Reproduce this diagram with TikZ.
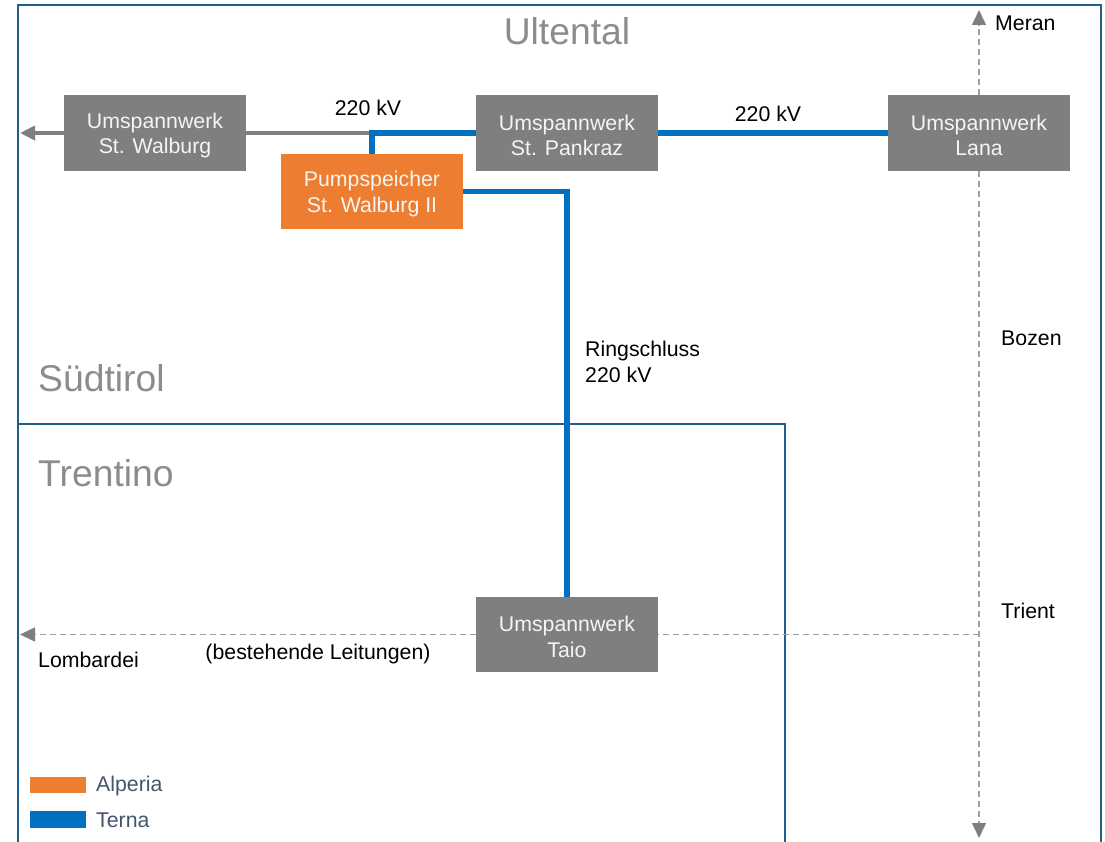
\documentclass[tikz,border=0pt]{standalone}
\usepackage{fontspec}
\setmainfont{Liberation Sans}
\usetikzlibrary{arrows.meta}

\definecolor{boxgray}{RGB}{127,127,127}
\definecolor{boxtext}{RGB}{245,245,245}
\definecolor{alperia}{RGB}{237,125,49}
\definecolor{terna}{RGB}{0,112,192}
\definecolor{frameblue}{RGB}{31,95,140}
\definecolor{titlegray}{RGB}{140,140,140}
\definecolor{dashgray}{RGB}{160,160,160}
\definecolor{legendtext}{RGB}{68,84,106}

\tikzset{
  station/.style={fill=boxgray, minimum width=182pt, minimum height=76pt, inner sep=0pt},
  plant/.style={station, fill=alperia},
  boxlabel/.style={text=boxtext, align=center, inner sep=0pt, yshift=-2.5pt,
    font=\fontsize{21.3}{25.5}\selectfont},
  region/.style={text=titlegray, font=\fontsize{37.3}{40}\selectfont, inner sep=0pt},
  lbl/.style={text=black, font=\fontsize{21.3}{25.5}\selectfont, inner sep=0pt},
  legendlbl/.style={text=legendtext, font=\fontsize{21.3}{25.5}\selectfont, inner sep=0pt, anchor=west},
  frame/.style={draw=frameblue, line width=1.5pt},
  ternaline/.style={draw=terna, line width=5.5pt},
  greyline/.style={draw=boxgray, line width=4pt},
  existing/.style={draw=dashgray, line width=1.5pt, dash pattern=on 6pt off 4pt},
  tipgray/.style={-{Triangle[length=15pt, width=14pt, color=boxgray]}},
}

\begin{document}
\begin{tikzpicture}[x=1pt, y=-1pt]
  \useasboundingbox (0,0) rectangle (1105,842);

  % regional borders
  \draw[frame] (18,842) -- (18,5) -- (1101,5) -- (1101,842);
  \draw[frame] (18,842) -- (18,424) -- (785,424) -- (785,842);

  % region names
  \node[region] (ultental) at (567,31) {Ultental};
  \node[region, anchor=west] (suedtirol) at (38,378) {Südtirol};
  \node[region, anchor=west] (trentino) at (38,473) {Trentino};

  % substations and the pumped storage plant
  \node[station, label={[boxlabel]center:Umspannwerk\\St. Walburg}] (walb) at (155,133) {};
  \node[station, label={[boxlabel]center:Umspannwerk\\St. Pankraz}] (pank) at (567,133) {};
  \node[station, label={[boxlabel]center:Umspannwerk\\Lana}] (lana) at (979,133) {};
  \node[station, minimum height=75pt, label={[boxlabel]center:Umspannwerk\\Taio}] (taio) at (567,634.5) {};
  \node[plant, minimum height=75pt, label={[boxlabel]center:Pumpspeicher\\St. Walburg II}] (pump) at (372,191.5) {};

  % free line ends
  \coordinate (westend) at (20,133);
  \coordinate (meran) at (979,10);
  \coordinate (south) at (979,838);
  \coordinate (trientjct) at (979,634.5);
  \coordinate (lombend) at (20,634.5);
  \coordinate (pumpjct) at (372,133);

  % existing lines (dashed)
  \draw[existing, tipgray] (lana.north) -- (meran);
  \draw[existing, tipgray] (lana.south) -- (south);
  \draw[existing] (trientjct) -- (taio.east);
  \draw[existing, tipgray] (taio.west) -- (lombend);

  % grey 220 kV line towards the west
  \draw[greyline] (walb.east) -- (pumpjct);
  \draw[greyline, tipgray] (walb.west) -- (westend);

  % Terna 220 kV lines
  \draw[ternaline] (pank.west) -| (pump.north);
  \draw[ternaline] (pank.east) -- (lana.west);
  \draw[ternaline] (pump.east) -| (taio.north);

  % line labels
  \node[lbl] (kv1) at (368,108) {220 kV};
  \node[lbl] (kv2) at (768,114) {220 kV};
  \node[lbl, anchor=west, align=left] (ring) at (585,362) {Ringschluss\\220 kV};
  \node[lbl] (bestehend) at (318,654) {(bestehende Leitungen)};

  % place names
  \node[lbl, anchor=west] (meranlbl) at (995,23) {Meran};
  \node[lbl, anchor=west] (bozen) at (1001,338) {Bozen};
  \node[lbl, anchor=west] (trient) at (1001,611) {Trient};
  \node[lbl, anchor=west] (lomb) at (38,660) {Lombardei};

  % legend
  \fill[alperia] (30,777) rectangle (86,793);
  \fill[terna] (30,811) rectangle (86,828);
  \node[legendlbl] (lgA) at (96,786) {Alperia};
  \node[legendlbl] (lgT) at (96,820) {Terna};
\end{tikzpicture}
\end{document}
